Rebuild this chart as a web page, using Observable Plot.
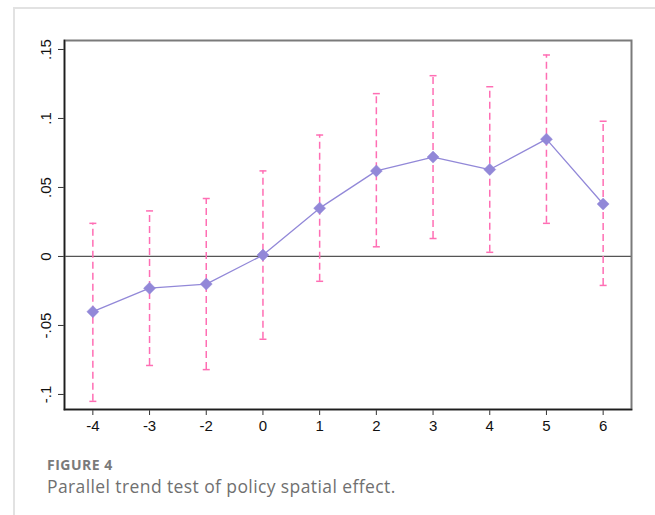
<!DOCTYPE html>
<html>
<head>
<meta charset="utf-8">
<script src="https://cdn.jsdelivr.net/npm/d3@7"></script>
<script src="https://cdn.jsdelivr.net/npm/@observablehq/plot@0.6"></script>
<style>
  html, body { margin: 0; padding: 0; background: #fff; }
  body { position: relative; width: 655px; height: 515px; overflow: hidden; }
  #card { position: absolute; left: 13px; top: 7px; right: 0; bottom: 0;
          border-top: 2px solid #e2e2e2; border-left: 2px solid #e2e2e2; }
  #chart { position: absolute; left: 0; top: 0; }
  #caption { position: absolute; left: 47px; top: 456px; font-family: "Open Sans", Lato, sans-serif; color: #777; white-space: nowrap; }
  #caption .lab { font-weight: 700; font-size: 14px; line-height: 18px; letter-spacing: 0.5px; color: #7a7a7a; }
  #caption .txt { font-size: 17.5px; line-height: 24px; letter-spacing: 0.4px; color: #707070; }
</style>
</head>
<body>
<div id="card"></div>
<div id="chart"></div>
<div id="caption"><div class="lab">FIGURE 4</div><div class="txt">Parallel trend test of policy spatial effect.</div></div>
<script>
// Event time (periods relative to policy)
const periods = ["-4", "-3", "-2", "0", "1", "2", "3", "4", "5", "6"];
// Point estimates
const coef  = [-0.040, -0.023, -0.020, 0.001, 0.035, 0.062, 0.072, 0.063, 0.085, 0.038];
// 95% CI bounds
const upper = [0.024, 0.033, 0.042, 0.062, 0.088, 0.118, 0.131, 0.123, 0.146, 0.098];
const lower = [-0.105, -0.079, -0.082, -0.060, -0.018, 0.007, 0.013, 0.003, 0.024, -0.021];
// Y tick values and labels
const yTicks = [-0.1, -0.05, 0, 0.05, 0.1, 0.15];
const yTickLabels = ["-.1", "-.05", "0", ".05", ".1", ".15"];

const data = periods.map((p, i) => ({p, c: coef[i], hi: upper[i], lo: lower[i]}));
const yLab = yTicks.map((v, i) => ({v, t: yTickLabels[i]}));

const pink = "#ff6eb4";
const purple = "#9288d8";

const capSymbol = {
  draw(ctx, size) {
    const r = Math.sqrt(size / Math.PI);
    ctx.moveTo(-r, 0);
    ctx.lineTo(r, 0);
  }
};

const font = "Arial, 'Liberation Sans', sans-serif";

const chart = Plot.plot({
  width: 655,
  height: 445,
  marginTop: 40,
  marginLeft: 64,
  marginRight: 24,
  marginBottom: 36,
  style: { fontFamily: font, fontSize: "15px", color: "#111", background: "transparent" },
  x: { type: "point", domain: periods, padding: 0.5, round: false },
  y: { domain: [-0.1109, 0.1565] },
  marks: [
    Plot.axisX({ domain: periods, label: null, tickSize: 6, tickPadding: 5, fontSize: 15, fontFamily: font, stroke: "#333", fill: "#111" }),
    Plot.axisY(yTicks, { label: null, tickSize: 6, stroke: "#333", tickFormat: () => "" }),
    Plot.text(yLab, { y: "v", text: "t", frameAnchor: "left", dx: -18, rotate: -90, textAnchor: "middle", lineAnchor: "middle",
      fontSize: 15, fontFamily: font, fill: "#111" }),
    Plot.ruleY([0], { stroke: "#555", strokeWidth: 1.2 }),
    Plot.ruleX(data, { x: "p", y1: "lo", y2: "hi", stroke: pink, strokeWidth: 1.5, strokeDasharray: "7,4" }),
    Plot.dot(data, { x: "p", y: "hi", symbol: capSymbol, r: 3.5, stroke: pink, strokeWidth: 1.5, fill: "none" }),
    Plot.dot(data, { x: "p", y: "lo", symbol: capSymbol, r: 3.5, stroke: pink, strokeWidth: 1.5, fill: "none" }),
    Plot.line(data, { x: "p", y: "c", stroke: purple, strokeWidth: 1.3 }),
    Plot.dot(data, { x: "p", y: "c", symbol: "diamond2", r: 5.4, fill: purple, stroke: purple, strokeWidth: 0.5 }),
    Plot.frame({ stroke: "#7a7a7a", strokeWidth: 2 }),
    Plot.frame({ anchor: "left", stroke: "#1e1e1e", strokeWidth: 1.5 }),
    Plot.frame({ anchor: "bottom", stroke: "#1e1e1e", strokeWidth: 1.5 })
  ]
});
document.getElementById("chart").appendChild(chart);
</script>
</body>
</html>
